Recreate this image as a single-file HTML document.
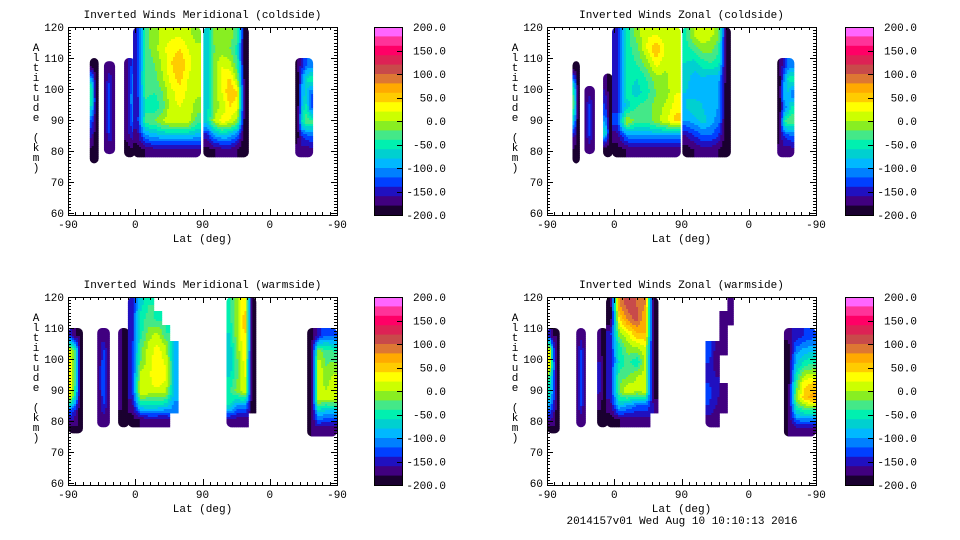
<!DOCTYPE html>
<html><head><meta charset="utf-8">
<style>
body{margin:0;background:#fff;}
svg{display:block;}
text{font-family:"Liberation Mono",monospace;font-size:11px;fill:#000;}
</style></head>
<body>
<svg id="c" width="960" height="540" xmlns="http://www.w3.org/2000/svg"></svg>
<script>
const colorBands=["#ff66ff","#ff3399","#ff0066","#dd2255","#c84a4a","#dd7733","#ffaa00","#ffcc00","#ffff00","#ccff00","#88ee22","#44e888","#00f0b0","#00d0d0","#00b8ff","#0080ff","#0040ff","#2010c0","#400080","#1a0030"];
const cbarLabels=["200.0","150.0","100.0","50.0","0.0","-50.0","-100.0","-150.0","-200.0"];
const xTickLabels=["-90","0","90","0","-90"];
const yTickLabels=[120,110,100,90,80,70,60];
const titles=["Inverted Winds Meridional (coldside)","Inverted Winds Zonal (coldside)","Inverted Winds Meridional (warmside)","Inverted Winds Zonal (warmside)"];
// blobs: [u0,u1,altBottom,altTop, grid rows top->bottom]
const blobsTL=[
[29,41,76,110,[[-180,-200],[-60,-200],[-40,-200],[-120,-200],[-160,-200],[-190,-200]]],
[48,63,79,109,[[-170,-170,-170],[-170,-130,-170],[-170,-130,-170],[-170,-130,-170],[-170,-130,-170],[-170,-170,-170]]],
[75,90,78,110,[[-170,-130],[-170,-110],[-170,-100],[-170,-110],[-170,-140],[-190,-180]]],
[87,178,78,120,[[-150,-30,-10,5,15,15,5,-10],[-150,-30,-10,15,30,40,20,5],[-150,-30,-20,5,40,60,30,5],[-150,-20,-30,0,30,50,20,5],[-150,-30,-40,-20,15,30,15,5],[-150,-50,-60,-30,15,20,15,-10],[-150,-30,-20,0,15,15,15,-30],[-170,-100,-90,-80,-80,-80,-80,-90],[-190,-180,-170,-170,-170,-170,-170,-170]]],
[181,242,78,120,[[-70,-10,-20,-10,-30,-200],[-70,-20,-10,-20,-50,-200],[-70,-10,15,5,-40,-200],[-70,-10,30,40,-10,-200],[-70,-10,20,60,40,-200],[-70,-10,5,40,30,-200],[-70,5,30,20,-10,-200],[-150,-100,-80,-90,-120,-200],[-190,-180,-170,-170,-180,-200]]],
[304,328,78,110,[[-180,-150,-120,-110],[-200,-110,-60,-40],[-200,-90,-80,-120],[-200,-80,-50,-120],[-200,-60,-20,-30],[-190,-140,-130,-120],[-170,-170,-170,-170]]]
];
const blobsTR=[
[34,44,76,109,[[-180,-200],[-60,-200],[-20,-200],[-80,-200],[-160,-200],[-190,-200]]],
[50,64,79,101,[[-170,-170,-170],[-170,-130,-170],[-170,-130,-170],[-170,-130,-170],[-170,-170,-170]]],
[75,88,78,105,[[-170,-200],[-150,-200],[-120,-200],[-60,-200],[-190,-200]]],
[87,179,78,120,[[-150,-50,-10,15,20,5,20],[-150,-50,-30,20,60,15,20],[-150,-50,-40,-10,30,5,20],[-150,-50,-60,-40,-5,-5,20],[-150,-50,-70,-50,-20,-10,20],[-150,-70,-40,-30,-10,5,30],[-130,5,-30,-30,-10,15,50],[-170,-110,-100,-100,-100,-100,-100],[-190,-180,-170,-170,-170,-170,-170]]],
[181,246,78,120,[[-40,5,20,5,-10,-200],[-50,-30,-10,-10,-40,-200],[-60,-70,-50,-40,-50,-200],[-70,-90,-80,-90,-90,-200],[-80,-100,-90,-100,-100,-200],[-80,-60,-80,-90,-100,-200],[-100,-90,-70,-90,-110,-200],[-160,-140,-120,-120,-140,-200],[-190,-180,-170,-170,-180,-200]]],
[308,331,78,110,[[-180,-150,-120,-110],[-200,-110,-60,-40],[-200,-90,-80,-120],[-200,-120,-90,-50],[-200,-60,-20,-30],[-190,-140,-130,-120],[-170,-170,-170,-170]]]
];
const blobsBL=[
[0,20,76,110,[[-150,-180,-180],[20,-40,-200],[30,-40,-200],[40,-40,-200],[20,-60,-200],[-120,-150,-200],[-180,-180,-180]]],
[39,56,78,110,[[-170,-170,-170],[-170,-130,-170],[-170,-120,-170],[-170,-120,-170],[-170,-130,-170],[-170,-170,-170]]],
[67,82,78,110,[[-170,-200],[-170,-200],[-170,-200],[-170,-200],[-170,-200],[-190,-200]]],
[80,148,78,120,[[-150,-70,-40,null,null,null],[-150,-50,-30,-50,null,null],[-150,-50,-10,5,-40,null],[-150,-30,10,25,5,-80],[-150,-20,15,35,15,-80],[-150,10,15,40,25,-80],[-150,20,15,15,5,-80],[-170,-60,-60,-60,-70,-110],[-190,-180,-170,-170,-170,null]]],
[212,252,78,120,[[-40,0,40,-200],[-40,-10,60,-200],[-60,0,50,-200],[-70,-10,40,-200],[-80,-20,30,-200],[-60,-20,30,-200],[-40,-10,20,-200],[-60,-100,-100,-200],[-170,-170,-170,null]]],
[320,360,75,110,[[-190,-150,-120,-120],[-200,-10,-30,-40],[-200,20,-20,-10],[-200,20,-10,10],[-200,20,10,20],[-200,-80,-100,-100],[-180,-170,-170,-170]]]
];
const blobsBR=[
[0,17,76,110,[[-150,-180,-180],[40,-120,-200],[40,-100,-200],[-40,-120,-200],[-60,-120,-200],[-120,-150,-200],[-180,-180,-180]]],
[39,52,78,110,[[-170,-170,-170],[-170,-130,-170],[-170,-130,-170],[-170,-130,-170],[-170,-130,-170],[-170,-170,-170]]],
[67,82,78,110,[[-170,-200],[-170,-200],[-150,-200],[-150,-200],[-170,-200],[-190,-200]]],
[79,149,78,120,[[-200,80,110,100,80,-200],[-200,40,90,110,60,-200],[-150,-10,20,60,60,-200],[-150,-50,-10,0,20,-200],[-150,-60,-30,-60,5,-200],[-150,-30,-20,0,10,-200],[-150,-20,20,5,10,-200],[-170,-80,-100,-120,-120,-160],[-190,-180,-170,-170,-170,null]]],
[212,259,78,120,[[null,null,null,-170,null],[null,null,-170,-170,null],[null,null,-170,null,null],[-120,-170,-170,null,null],[-140,-170,null,null,null],[-150,-160,null,null,null],[-130,-150,-170,null,null],[-140,-160,-170,null,null],[-170,-170,null,null,null]]],
[317,360,75,110,[[-170,-150,-140,-130],[-200,-110,-90,-80],[-200,-80,-40,-30],[-200,-40,30,40],[-200,-10,50,70],[-190,-80,-60,-60],[-180,-170,-170,-170]]]
];
const panels=[
{x0:68,x1:337,y0:27,y1:215,cx:374,blobs:blobsTL,name:"meridional-coldside"},
{x0:547,x1:816,y0:27,y1:215,cx:845,blobs:blobsTR,name:"zonal-coldside"},
{x0:68,x1:337,y0:297,y1:485,cx:374,blobs:blobsBL,name:"meridional-warmside"},
{x0:547,x1:816,y0:297,y1:485,cx:845,blobs:blobsBR,name:"zonal-warmside"}
];
const NS="http://www.w3.org/2000/svg";
const svg=document.getElementById('c');
function mk(tag,attrs,parent){const e=document.createElementNS(NS,tag);for(const k in attrs)e.setAttribute(k,attrs[k]);(parent||svg).appendChild(e);return e;}
function colorOf(v){let b=Math.floor((200-v)/20);if(b<0)b=0;if(b>19)b=19;return colorBands[b];}
function sample(grid,gx,gy){
  const rows=grid.length,cols=grid[0].length;
  const ni=Math.min(rows-1,Math.max(0,Math.round(gy))),nj=Math.min(cols-1,Math.max(0,Math.round(gx)));
  if(grid[ni][nj]===null)return null;
  gx=Math.max(0,Math.min(cols-1,gx));gy=Math.max(0,Math.min(rows-1,gy));
  const i0=Math.floor(gy),j0=Math.floor(gx),i1=Math.min(rows-1,i0+1),j1=Math.min(cols-1,j0+1);
  const fy=gy-i0,fx=gx-j0;
  let s=0,w=0;
  [[i0,j0,(1-fy)*(1-fx)],[i0,j1,(1-fy)*fx],[i1,j0,fy*(1-fx)],[i1,j1,fy*fx]].forEach(([i,j,ww])=>{const v=grid[i][j];if(v!==null&&ww>0){s+=v*ww;w+=ww;}});
  return w>0?s/w:grid[ni][nj];
}
panels.forEach((p,pi)=>{
  const g=mk('g',{});
  
  
  const xs=u=>p.x0+u/360*(p.x1-p.x0);
  const ys=a=>p.y0+(120-a)/60*(p.y1-p.y0-2);
  p.blobs.forEach((b,bi)=>{
    const [u0,u1,a0,a1,grid]=b;
    const cid='clip'+pi+'_'+bi;
    const cp=mk('clipPath',{id:cid},g);
    mk('rect',{x:xs(u0),y:ys(a1),width:xs(u1)-xs(u0),height:ys(a0)-ys(a1),rx:5,ry:5},cp);
    const bg=mk('g',{'clip-path':'url(#'+cid+')'},g);
    
    
    const rows=grid.length,cols=grid[0].length;
    const X0=xs(u0),X1=xs(u1),Y0=ys(a1),Y1=ys(a0);
    const cw=(X1-X0)/cols,ch=(Y1-Y0)/rows;
    const step=2;
    for(let y=Y0;y<Y1;y+=step){
      for(let x=X0;x<X1;x+=step){
        const gx=(x+step/2-X0)/cw-0.5,gy=(y+step/2-Y0)/ch-0.5;
        const v=sample(grid,gx,gy);
        if(v===null)continue;
        const r=mk('rect',{x:x,y:y,width:step+0.4,height:step+0.4,fill:colorOf(v)},bg);
        
        
      }
    }
  });
  const fr=mk('rect',{x:p.x0+0.5,y:p.y0+0.5,width:p.x1-p.x0,height:p.y1-p.y0,fill:'none',stroke:'#000','stroke-width':1},g);
  
  
  let tk='';
  for(let a=60;a<=120;a++){
    const y=Math.round(ys(a))+0.5;const L=(a%10===0)?6:3;
    tk+=`M${p.x0} ${y}h${L}M${p.x1} ${y}h${-L}`;
  }
  for(let u=0;u<=360;u+=10){
    const x=Math.round(xs(u))+0.5;const L=(u%90===0)?6:3;
    tk+=`M${x} ${p.y1}v${-L}M${x} ${p.y0}v${L}`;
  }
  const tp=mk('path',{d:tk,stroke:'#000','stroke-width':1,fill:'none'},g);
  
  
  yTickLabels.forEach(a=>{
    const t=mk('text',{x:p.x0-4,y:ys(a)+4,'text-anchor':'end'},g);t.textContent=a;
    
    
  });
  xTickLabels.forEach((l,i)=>{
    const t=mk('text',{x:xs(i*90),y:p.y1+13,'text-anchor':'middle'},g);t.textContent=l;
    
    
  });
  const xt=mk('text',{x:(p.x0+p.x1)/2,y:p.y1+27,'text-anchor':'middle'},g);xt.textContent='Lat (deg)';
  
  
  const tt=mk('text',{x:(p.x0+p.x1)/2,y:p.y0-9,'text-anchor':'middle'},g);tt.textContent=titles[pi];
  
  
  const yl=mk('text',{x:p.x0-32,y:p.y0+24,'text-anchor':'middle'},g);
  
  
  'Altitude (km)'.split('').forEach((ch,i)=>{const s=mk('tspan',{x:p.x0-32,y:p.y0+24+i*10},yl);s.textContent=ch;});
  const cb=mk('g',{},g);
  
  
  const bh=(p.y1-p.y0)/colorBands.length;
  colorBands.forEach((c,i)=>{const r=mk('rect',{x:p.cx,y:p.y0+i*bh,width:29,height:bh+0.5,fill:c},cb);
    
    });
  mk('rect',{x:p.cx+0.5,y:p.y0+0.5,width:28,height:p.y1-p.y0,fill:'none',stroke:'#000'},cb);
  cbarLabels.forEach((l,i)=>{
    const y=p.y0+i*(p.y1-p.y0)/8;
    mk('path',{d:`M${p.cx+29} ${Math.round(y)+0.5}h-6`,stroke:'#000'},cb);
    const t=mk('text',{x:p.cx+72,y:y+4,'text-anchor':'end'},cb);t.textContent=l;
    
    
  });
});
const ft=mk('text',{x:682,y:524,'text-anchor':'middle'});ft.textContent='2014157v01 Wed Aug 10 10:10:13 2016';


</script>
</body></html>
